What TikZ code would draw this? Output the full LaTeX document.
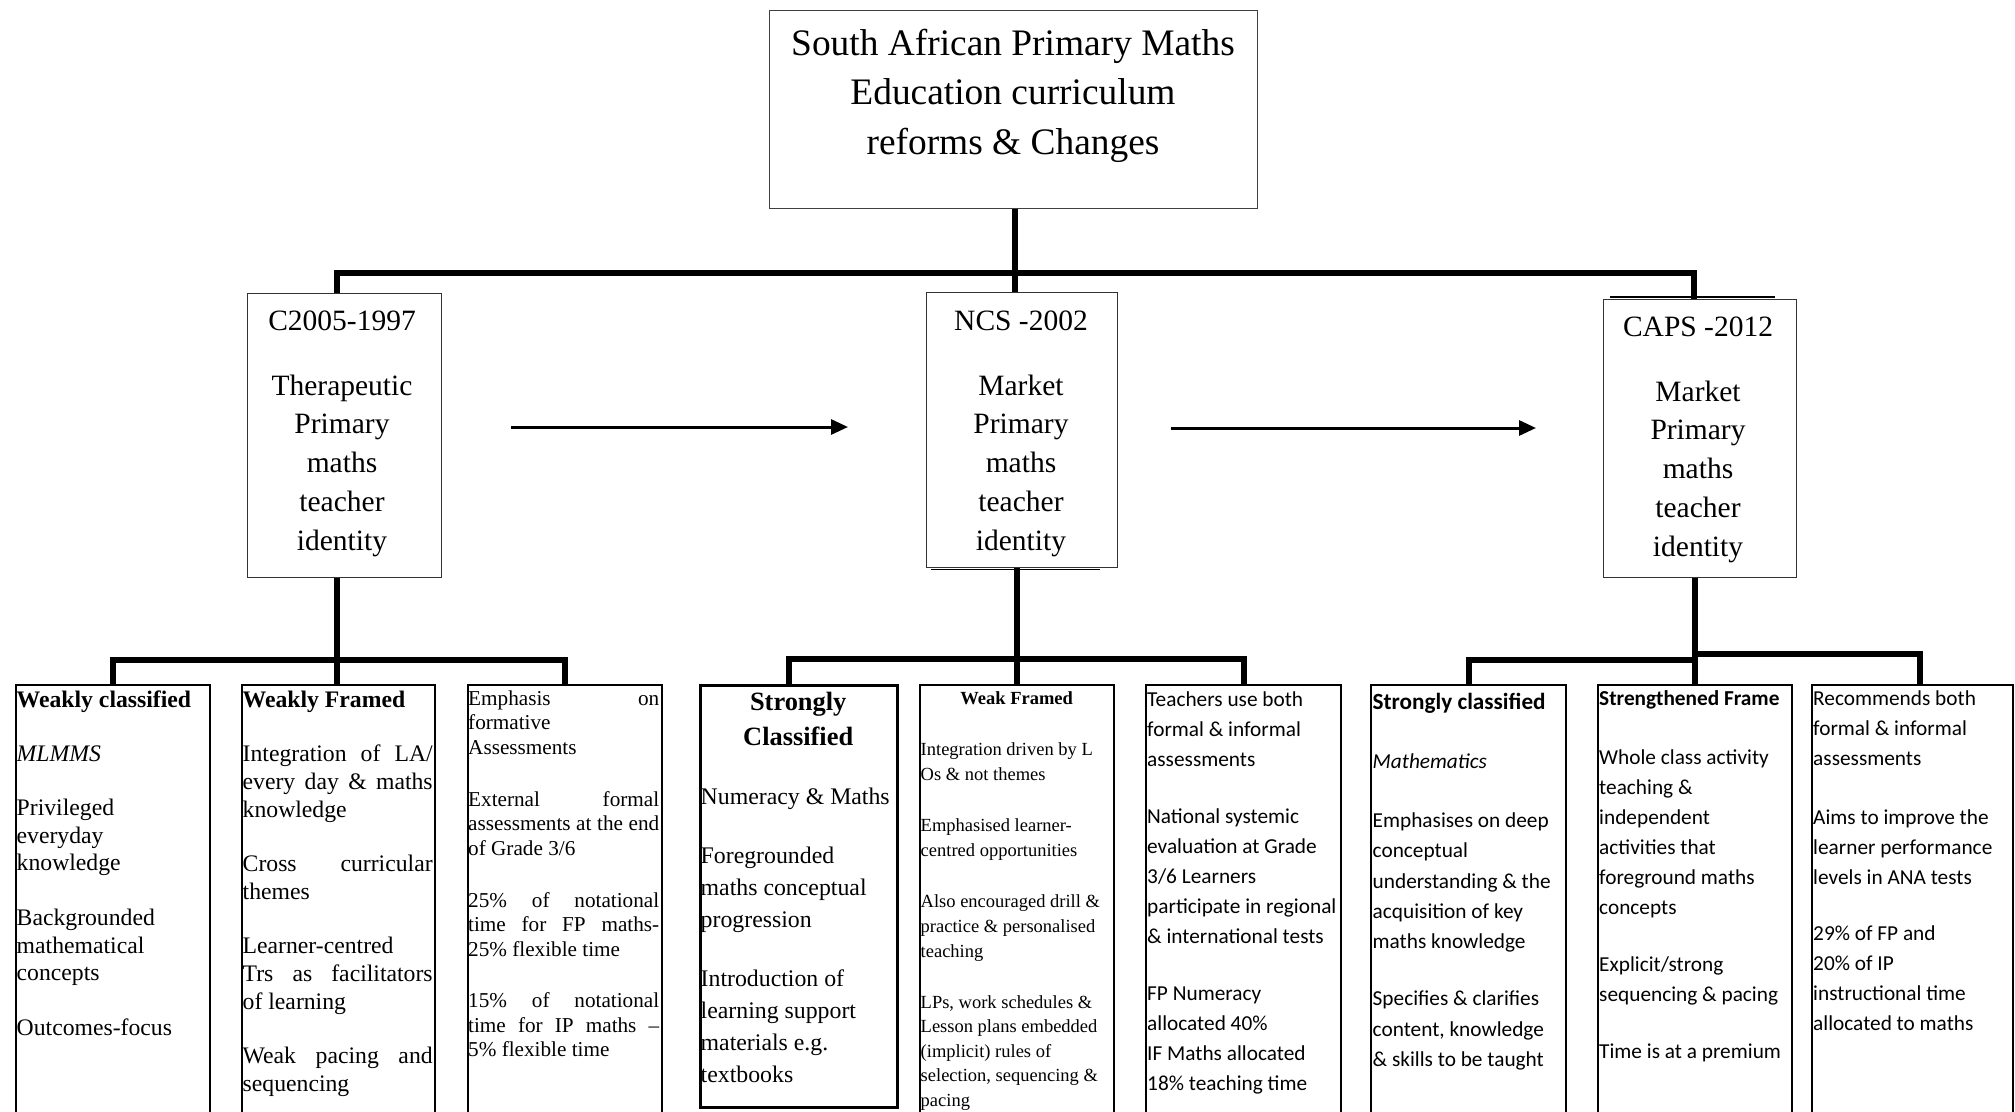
\documentclass[tikz,border=0pt]{standalone}
\usepackage{fontspec}
\setmainfont{Liberation Serif}
\newfontfamily\calibrifont{Carlito}
\usetikzlibrary{arrows.meta}

% invisible struts fixing the height of a first line
\newcommand\fl{\rule{0pt}{20pt}}
\newcommand\flbig{\rule{0pt}{30pt}}
% a justified line of a given width
\newcommand\jl[2]{\makebox[#1][s]{\spaceskip=0pt\xspaceskip=0pt #2}}

\begin{document}
\begin{tikzpicture}[x=1pt,y=-1pt,
  headbox/.style={draw=black!75, line width=1.3pt, anchor=north west, inner sep=0pt},
  erabox/.style={draw=black!80, line width=1.3pt, anchor=north west, inner sep=0pt},
  leafbox/.style={draw=black, line width=2pt, anchor=north west, inner sep=0pt},
  txt/.style={anchor=north west, inner sep=0pt, align=flush left},
  ctxt/.style={anchor=north, inner sep=0pt, align=flush center},
  conn/.style={line width=6pt},
  flow/.style={line width=3pt, -{Triangle[length=17pt,width=15pt]}},
  erafont/.style={font=\fontsize{29.5}{38.8}\selectfont},
  tnrbody/.style={font=\fontsize{23.7}{27.8}\selectfont},
  calbody/.style={font=\calibrifont\fontsize{21.3}{30}\selectfont}
]
\path[use as bounding box] (0,0) rectangle (2015,1111);
\clip (0,0) rectangle (2015,1111);
\fill[white] (0,0) rectangle (2015,1111);

% ---------- title ----------
\node[headbox, minimum width=488pt, minimum height=198pt] (top) at (769,10) {};
\node[ctxt, font=\fontsize{37.4}{49.5}\selectfont] (toptxt) at (1013,25)
  {\flbig South African Primary Maths\\Education curriculum\\reforms \& Changes};

% ---------- curriculum eras ----------
\node[erabox, minimum width=194pt, minimum height=284pt] (c2005) at (247,293) {};
\node[ctxt, erafont] (c2005txt) at (342,300)
  {\flbig C2005-1997\\[26pt]Therapeutic\\Primary\\maths\\teacher\\identity};

\node[erabox, minimum width=191pt, minimum height=275pt] (ncs) at (926,292) {};
\node[ctxt, erafont] (ncstxt) at (1021,300)
  {\flbig NCS -2002\\[26pt]Market\\Primary\\maths\\teacher\\identity};
\draw[line width=1.2pt] (931,569.5) -- (1100,569.5);

\node[erabox, minimum width=193pt, minimum height=278pt] (caps) at (1603,299) {};
\node[ctxt, erafont] (capstxt) at (1698,306)
  {\flbig CAPS -2012\\[26pt]Market\\Primary\\maths\\teacher\\identity};
\draw[line width=2.5pt] (1610,297) -- (1775,297);

% transitions between eras
\coordinate (f1s) at (511,427);
\coordinate (f1e) at (848,427);
\coordinate (f2s) at (1171,428);
\coordinate (f2e) at (1536,428);
\draw[flow] (f1s) -- (f1e);
\draw[flow] (f2s) -- (f2e);

% ---------- C2005 details ----------
\node[leafbox, minimum width=194pt, minimum height=460pt] (A) at (15,684) {};
\node[txt, tnrbody, text width=192pt] (Atxt) at (16.5,687.5)
  {\fl\textbf{Weakly classified}\\[26pt]\textit{MLMMS}\\[26pt]Privileged\\everyday\\knowledge\\[26.5pt]Backgrounded\\mathematical\\concepts\\[27pt]Outcomes-focus};

\node[leafbox, minimum width=193pt, minimum height=460pt] (B) at (241,684) {};
\node[txt, tnrbody, text width=190pt] (Btxt) at (242.5,687.5)
  {\fl\textbf{Weakly Framed}\\[26pt]\jl{190pt}{Integration of LA/}\\\jl{190pt}{every day \& maths}\\knowledge\\[26.5pt]\jl{190pt}{Cross curricular}\\themes\\[26.5pt]Learner-centred\\\jl{190pt}{Trs as facilitators}\\of learning\\[26.5pt]\jl{190pt}{Weak pacing and}\\sequencing};

\node[leafbox, minimum width=194pt, minimum height=460pt] (C) at (467,684) {};
\node[txt, font=\fontsize{21.2}{24.5}\selectfont, text width=191pt] (Ctxt) at (468,685)
  {\fl\jl{191pt}{Emphasis on}\\formative\\Assessments\\[27.5pt]\jl{191pt}{External formal}\\\jl{191pt}{assessments at the end}\\of Grade 3/6\\[27.5pt]\jl{191pt}{25\% of notational}\\\jl{191pt}{time for FP maths-}\\25\% flexible time\\[27pt]\jl{191pt}{15\% of notational}\\\jl{191pt}{time for IP maths –}\\5\% flexible time};

% ---------- NCS details ----------
\node[leafbox, line width=2.5pt, minimum width=197pt, minimum height=422pt] (D) at (699,684) {};
\node[txt, font=\fontsize{23.8}{31.8}\selectfont, text width=195pt] (Dtxt) at (700.5,690)
  {\fl\makebox[195pt][c]{\fontsize{26.4}{35}\selectfont\bfseries Strongly}\\[3.2pt]\makebox[195pt][c]{\fontsize{26.4}{35}\selectfont\bfseries Classified}\\[27.5pt]Numeracy \& Maths\\[27.5pt]Foregrounded\\maths conceptual\\progression\\[27.5pt]Introduction of\\learning support\\materials e.g.\\textbooks};

\node[leafbox, minimum width=194pt, minimum height=460pt] (E) at (919,684) {};
\node[txt, font=\fontsize{18.5}{24.6}\selectfont, text width=192pt] (Etxt) at (920.5,684.2)
  {\fl\makebox[192pt][c]{\bfseries Weak Framed}\\[26.4pt]Integration driven by L\\Os \& not themes\\[27pt]Emphasised learner-\\centred opportunities\\[27pt]Also encouraged drill \&\\practice \& personalised\\teaching\\[26.5pt]LPs, work schedules \&\\Lesson plans embedded\\(implicit) rules of\\selection, sequencing \&\\pacing};

\node[leafbox, minimum width=195pt, minimum height=460pt] (F) at (1145,684) {};
\node[txt, calbody, text width=193pt] (Ftxt) at (1147,686)
  {\fl Teachers use both\\formal \& informal\\assessments\\[27pt]National systemic\\evaluation at Grade\\3/6 Learners\\participate in regional\\\& international tests\\[27pt]FP Numeracy\\allocated 40\%\\IF Maths allocated\\18\% teaching time};

% ---------- CAPS details ----------
\node[leafbox, minimum width=195pt, minimum height=460pt] (G) at (1370,684) {};
\node[txt, font=\calibrifont\fontsize{21.3}{30.3}\selectfont, text width=193pt] (Gtxt) at (1372.5,689)
  {\fl{\fontsize{23.2}{30}\selectfont\bfseries Strongly classified}\\[29.4pt]\textit{Mathematics}\\[28.3pt]Emphasises on deep\\conceptual\\understanding \& the\\acquisition of key\\maths knowledge\\[26.7pt]Specifies \& clarifies\\content, knowledge\\\& skills to be taught};

\node[leafbox, minimum width=194pt, minimum height=460pt] (H) at (1597,684) {};
\node[txt, calbody, text width=192pt] (Htxt) at (1599,685.5)
  {\fl\textbf{Strengthened Frame}\\[28.4pt]Whole class activity\\teaching \&\\independent\\activities that\\foreground maths\\concepts\\[27.6pt]Explicit/strong\\sequencing \& pacing\\[26.7pt]Time is at a premium};

\node[leafbox, minimum width=201pt, minimum height=460pt] (I) at (1811,684) {};
\node[txt, calbody, text width=199pt] (Itxt) at (1813,685.5)
  {\fl Recommends both\\formal \& informal\\assessments\\[28.4pt]Aims to improve the\\learner performance\\levels in ANA tests\\[26.6pt]29\% of FP and\\20\% of IP\\instructional time\\allocated to maths};

% ---------- connectors ----------
\coordinate (j1) at (337,273);
\coordinate (j2) at (1015,273);
\coordinate (j3) at (1694,273);
\draw[conn] (top.south -| j2) -- (j2);
\draw[conn] (c2005.north -| j1) -- (j1) -- (j3) -- (caps.north -| j3);
\draw[conn] (j2) -- (ncs.north -| j2);

\coordinate (k1) at (337,660);
\draw[conn] (c2005.south -| k1) -- (k1);
\draw[conn] (A.north) -- (A.north |- k1) -- (C.north |- k1) -- (C.north);
\draw[conn] (k1) -- (B.north -| k1);

\coordinate (m1) at (789,659);
\draw[conn] (D.north -| m1) -- (m1) -- (F.north |- m1) -- (F.north);
\draw[conn] (ncs.south -| E.north) -- (E.north);

\coordinate (r1) at (1694,660);
\coordinate (r2) at (1694,654);
\coordinate (r3) at (1920,654);
\draw[conn] (G.north) -- (G.north |- r1) -- (r1);
\draw[conn] (caps.south -| H.north) -- (H.north);
\draw[conn] (r2) -- (r3) -- (I.north -| r3);
\end{tikzpicture}
\end{document}
